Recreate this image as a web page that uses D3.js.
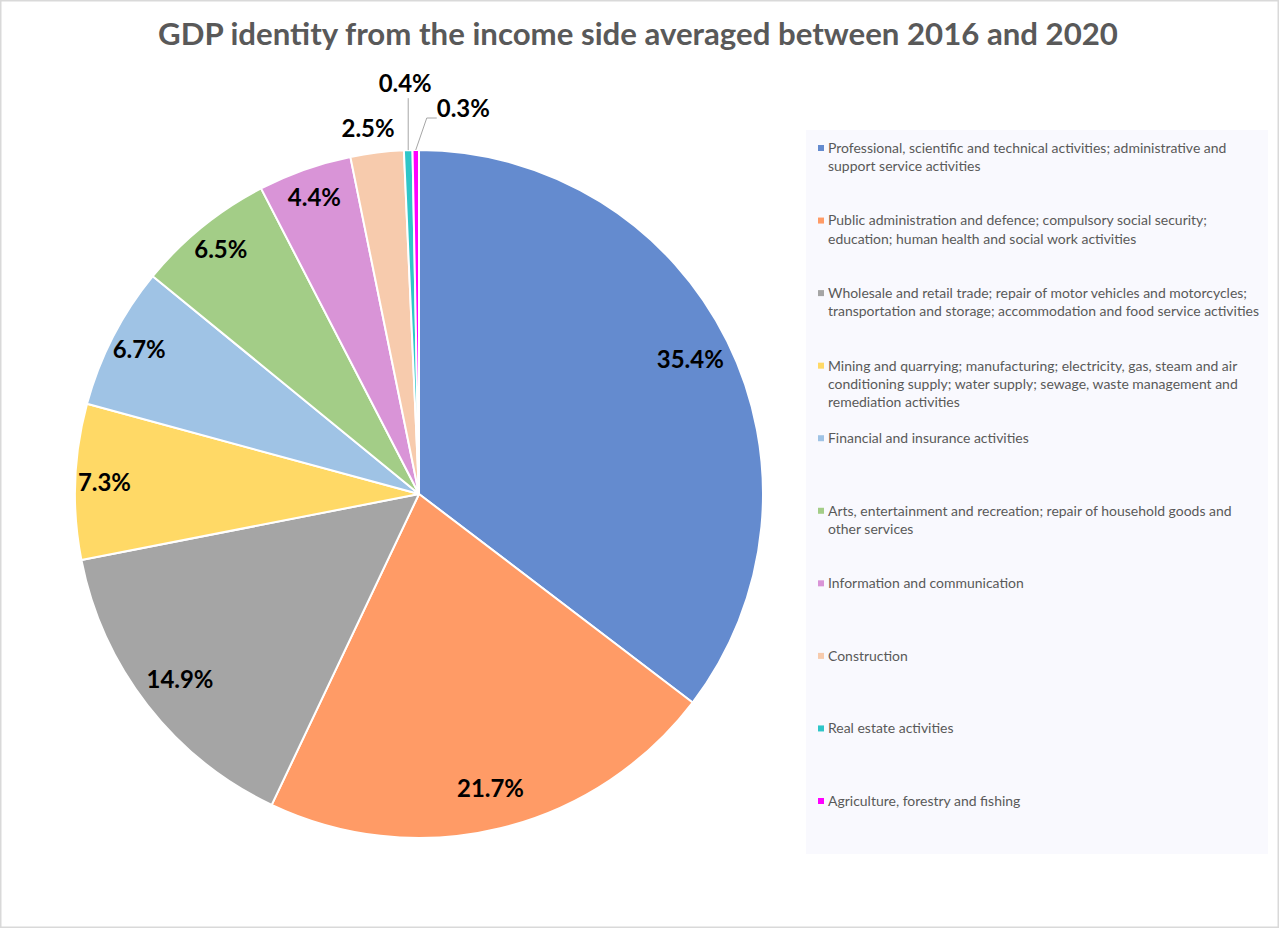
<!DOCTYPE html>
<html>
<head>
<meta charset="utf-8">
<script src="https://cdn.jsdelivr.net/npm/d3@7"></script>
<style>
  html, body { margin: 0; padding: 0; background: #ffffff; }
  svg { display: block; }
</style>
</head>
<body>
<svg id="chart" width="1280" height="929"></svg>
<script>
// ---- data ----
const title = "GDP identity from the income side averaged between 2016 and 2020";
const categories = [
  "Professional, scientific and technical activities; administrative and\nsupport service activities",
  "Public administration and defence; compulsory social security;\neducation; human health and social work activities",
  "Wholesale and retail trade; repair of motor vehicles and motorcycles;\ntransportation and storage; accommodation and food service activities",
  "Mining and quarrying; manufacturing; electricity, gas, steam and air\nconditioning supply; water supply; sewage, waste management and\nremediation activities",
  "Financial and insurance activities",
  "Arts, entertainment and recreation; repair of household goods and\nother services",
  "Information and communication",
  "Construction",
  "Real estate activities",
  "Agriculture, forestry and fishing"
];
const values = [35.4, 21.7, 14.9, 7.3, 6.7, 6.5, 4.4, 2.5, 0.4, 0.3];
const colors = ["#648bcf", "#ff9b66", "#a5a5a5", "#ffd966", "#9fc3e5", "#a3cd87", "#d994d7", "#f7cbad", "#2ec6c8", "#ff00ff"];

// ---- layout ----
const svg = d3.select("#chart");
const W = 1280, H = 929;
const cx = 419, cy = 494, R = 344;
const FONT = "Lato, 'Open Sans', sans-serif";

// frame
svg.append("rect").attr("x", 0.75).attr("y", 0.75).attr("width", W - 2.5).attr("height", H - 2.5)
  .attr("fill", "#ffffff").attr("stroke", "#d9d9d9").attr("stroke-width", 1.5);

// helper to fit text to a target width
function fitSize(text, weight, target, base) {
  const t = svg.append("text").attr("font-family", FONT).attr("font-weight", weight)
    .attr("font-size", base).text(text);
  const w = t.node().getComputedTextLength();
  t.remove();
  return base * target / w;
}

// title
const titleSize = fitSize(title, 700, 960, 32);
svg.append("text")
  .attr("x", 638).attr("y", 45)
  .attr("text-anchor", "middle")
  .attr("font-family", FONT).attr("font-weight", 700)
  .attr("font-size", titleSize)
  .attr("fill", "#595959")
  .text(title);

// pie
const pie = d3.pie().sort(null).value(d => d.v).startAngle(0).endAngle(2 * Math.PI);
const data = values.map((v, i) => ({ v, i, cat: categories[i], color: colors[i] }));
const arcs = pie(data);
const arc = d3.arc().innerRadius(0).outerRadius(R);

const g = svg.append("g").attr("transform", `translate(${cx},${cy})`);
g.selectAll("path.slice").data(arcs).join("path")
  .attr("class", "slice")
  .attr("d", arc)
  .attr("fill", d => d.data.color)
  .attr("stroke", "#ffffff")
  .attr("stroke-width", 2)
  .attr("stroke-linejoin", "round");

// labels
const labelSize = fitSize("35.4%", 700, 67, 24);
const fmt = v => v.toFixed(1) + "%";
const mid = d => (d.startAngle + d.endAngle) / 2;
const polar = (a, r) => [Math.sin(a) * r, -Math.cos(a) * r];

arcs.forEach((d, i) => {
  const a = mid(d);
  let x, y, anchor = "middle";
  if (d.data.v >= 10) {
    [x, y] = polar(a, R * 0.88);
  } else if (d.data.v >= 4) {
    [x, y] = polar(a, R * 0.915);
  } else if (d.data.v >= 1) {
    [x, y] = polar(a, R + 24);
    x -= 6;
  } else {
    const [ex, ey] = polar(a, R);
    if (i === values.length - 2) {
      // vertical leader up
      g.append("path").attr("d", `M${ex},${ey}V${ey - 52}`)
        .attr("stroke", "#a6a6a6").attr("stroke-width", 1).attr("fill", "none");
      x = ex - 3; y = ey - 67;
    } else {
      g.append("path").attr("d", `M${ex},${ey}L${ex + 11},${ey - 32}H${ex + 21}`)
        .attr("stroke", "#a6a6a6").attr("stroke-width", 1).attr("fill", "none");
      x = ex + 21; y = ey - 41; anchor = "start";
    }
  }
  g.append("text")
    .attr("x", x).attr("y", y)
    .attr("dy", "0.35em")
    .attr("text-anchor", anchor)
    .attr("font-family", FONT).attr("font-weight", 700)
    .attr("font-size", labelSize)
    .attr("fill", "#000000")
    .text(fmt(d.data.v));
});

// legend
const lx = 806, ly = 130, lw = 462, lh = 724;
svg.append("rect").attr("x", lx).attr("y", ly).attr("width", lw).attr("height", lh)
  .attr("fill", "#f9f9fe");

const legendSize = fitSize("transportation and storage; accommodation and food service activities", 400, 431, 13);
const itemY = d3.scalePoint().domain(d3.range(categories.length)).range([148, 801]);
const lg = svg.append("g");
categories.forEach((c, i) => {
  const y0 = itemY(i);
  lg.append("rect").attr("x", 818).attr("y", y0 - 3).attr("width", 6).attr("height", 6)
    .attr("fill", colors[i]);
  const lines = c.split("\n");
  const t = lg.append("text")
    .attr("font-family", FONT).attr("font-size", legendSize)
    .attr("fill", "#595959");
  lines.forEach((ln, k) => {
    t.append("tspan").attr("x", 828).attr("y", y0 + k * 18.4).attr("dy", "0.35em").text(ln);
  });
});
</script>
</body>
</html>
